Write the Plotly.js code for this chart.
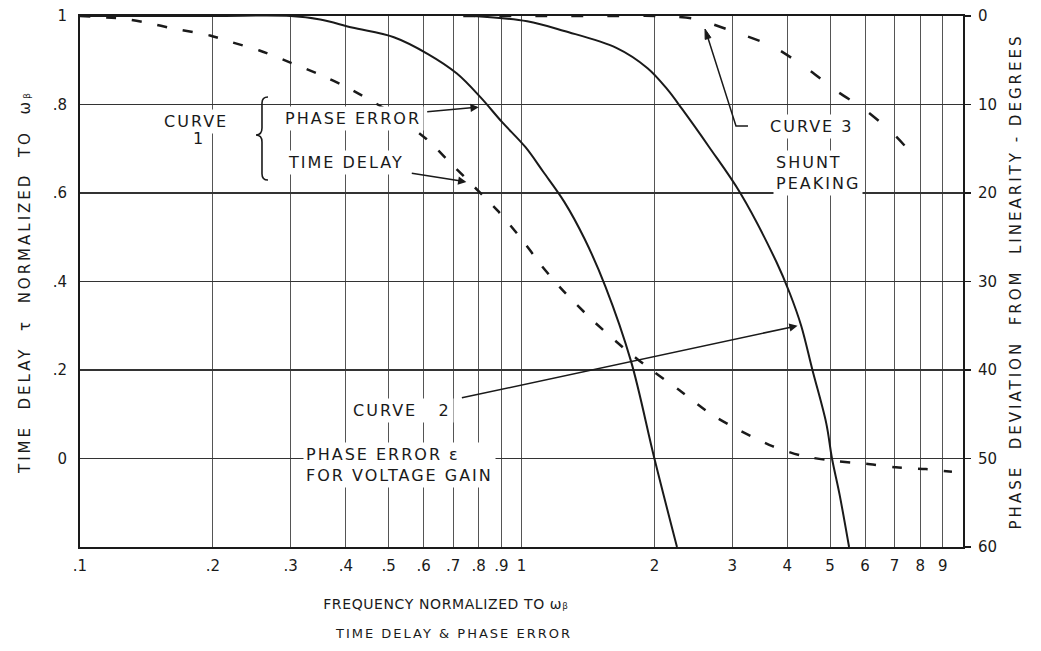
<!DOCTYPE html>
<html>
<head>
<meta charset="utf-8">
<script src="https://cdn.plot.ly/plotly-3.0.1.min.js"></script>
<style>
  html, body { margin: 0; padding: 0; background: #fff; }
  #chart { width: 1041px; height: 651px; }
  .annotation-text { letter-spacing: 2px; }
  .annotation[data-index="8"] .annotation-text { letter-spacing: 0.6px; }
  .ytitle, .y2title { letter-spacing: 3px; }
</style>
</head>
<body>
<div id="chart"></div>
<script>
// ---- tick labels ----
const freqTicks = [0.1, 0.2, 0.3, 0.4, 0.5, 0.6, 0.7, 0.8, 0.9, 1, 2, 3, 4, 5, 6, 7, 8, 9];
const freqTickText = [".1", ".2", ".3", ".4", ".5", ".6", ".7", ".8", ".9", "1", "2", "3", "4", "5", "6", "7", "8", "9"];
const delayTicks = [0, 0.2, 0.4, 0.6, 0.8, 1];
const delayTickText = ["0", ".2", ".4", ".6", ".8", "1"];
const phaseTicks = [0, 10, 20, 30, 40, 50, 60];
const phaseTickText = ["0", "10", "20", "30", "40", "50", "60"];

// ---- Curve 1: phase error (degrees, right axis) ----
const curve1Freq = [0.1, 0.2, 0.3, 0.35, 0.413, 0.514, 0.614, 0.714, 0.808, 0.904, 1.02, 1.12, 1.25, 1.39, 1.55, 1.77, 2.0, 2.25];
const curve1Phase = [0, 0, 0, 0.4, 1.3, 2.4, 4.3, 6.5, 9.2, 12.0, 14.8, 17.6, 21.0, 25.2, 30.6, 39.0, 50, 60];

// ---- Curve 1: time delay (normalized, left axis) ----
const curve1DelayFreq = [0.1, 0.125, 0.143, 0.162, 0.197, 0.222, 0.255, 0.294, 0.349, 0.4, 0.5, 0.609, 0.695, 0.762, 0.883, 1.0, 1.11, 1.23, 1.45, 1.73, 1.97, 2.28, 2.69, 3.11, 3.7, 4.32, 5.16, 6.04, 7.05, 8.24, 9.44];
const curve1Delay = [1.0, 0.994, 0.984, 0.972, 0.956, 0.94, 0.922, 0.898, 0.868, 0.84, 0.785, 0.722, 0.665, 0.625, 0.56, 0.496, 0.436, 0.384, 0.312, 0.244, 0.2, 0.154, 0.1, 0.064, 0.028, 0.006, -0.006, -0.012, -0.02, -0.024, -0.03];

// ---- Curve 2: phase error for voltage gain (degrees, right axis) ----
const curve2Freq = [0.778, 1.03, 1.25, 1.64, 1.93, 2.14, 2.31, 2.66, 3.13, 3.78, 4.05, 4.3, 4.56, 4.9, 5.05, 5.25, 5.52];
const curve2Phase = [0, 0.6, 1.7, 3.6, 5.9, 8.3, 10.5, 14.8, 20, 27.8, 31.3, 35, 40, 46, 50, 54, 60];

// ---- Curve 3: shunt peaking (normalized, left axis) ----
const curve3Freq = [0.738, 1.08, 1.32, 1.61, 2.05, 2.46, 3.0, 3.73, 4.51, 5.18, 6.0, 6.95, 8.0];
const curve3Delay = [1.0, 1.0, 1.0, 1.0, 1.0, 0.994, 0.966, 0.93, 0.876, 0.83, 0.788, 0.734, 0.668];

const ink = "#1a1a1a";
const FONT = "DejaVu Sans, Verdana, sans-serif";

const traces = [
  { x: curve1Freq, y: curve1Phase, yaxis: "y2", mode: "lines", name: "Curve 1 phase error",
    line: { color: ink, width: 2, shape: "spline", smoothing: 1.0 } },
  { x: curve1DelayFreq, y: curve1Delay, yaxis: "y", mode: "lines", name: "Curve 1 time delay",
    line: { color: ink, width: 2.5, dash: "10px,16px", shape: "spline", smoothing: 0.7 } },
  { x: curve2Freq, y: curve2Phase, yaxis: "y2", mode: "lines", name: "Curve 2",
    line: { color: ink, width: 2, shape: "spline", smoothing: 1.0 } },
  { x: curve3Freq, y: curve3Delay, yaxis: "y", mode: "lines", name: "Curve 3",
    line: { color: ink, width: 2.5, dash: "12px,24px", shape: "spline", smoothing: 0.7 } }
];

const textFont = { family: FONT, size: 16, color: ink };
function label(text, x, y, xanchor) {
  return { text: text, xref: "paper", yref: "paper", x: x, y: y,
    xanchor: xanchor || "center", yanchor: "middle", showarrow: false,
    font: textFont, bgcolor: "#ffffff", borderpad: 2, align: "left" };
}
function pointer(text, xv, yv, yref, ax, ay, gap) {
  return { text: text, x: Math.log10(xv), y: yv, xref: "x", yref: yref, ax: ax, ay: ay,
    showarrow: true, arrowhead: 2, arrowsize: 1.1, arrowwidth: 1.5, arrowcolor: ink,
    startstandoff: gap, font: textFont, bgcolor: "#ffffff", borderpad: 2 };
}

const annotations = [
  label("CURVE", 0.1314, 0.8004),                       // 0
  label("1", 0.1348, 0.7684),                           // 1
  pointer("PHASE ERROR", 0.80, 10.3, "y2", -126, 11, 4),   // 2
  pointer("TIME DELAY", 0.75, 0.625, "y", -120, -19, 5),  // 3
  label("CURVE 3", 0.778, 0.791, "left"),               // 4
  label("SHUNT<br>PEAKING", 0.7848, 0.7043, "left"),    // 5
  pointer("CURVE   2", 4.22, 35, "y2", -396, 85, 9),     // 6
  label("PHASE ERROR ε<br>FOR VOLTAGE GAIN", 0.2525, 0.1535, "left"), // 7
  { text: "FREQUENCY NORMALIZED TO ωᵦ", xref: "paper", yref: "paper",   // 8
    x: 0.4145, y: -0.107, xanchor: "center", yanchor: "middle", showarrow: false,
    font: { family: FONT, size: 14, color: ink } },
  { text: "TIME DELAY & PHASE ERROR", xref: "paper", yref: "paper",      // 9
    x: 0.4235, y: -0.162, xanchor: "center", yanchor: "middle", showarrow: false,
    font: { family: FONT, size: 13, color: ink } }
];

const shapes = [
  // brace for curve 1
  { type: "path", xref: "paper", yref: "paper",
    path: "M 0.2129,0.8475 Q 0.2061,0.8475 0.2061,0.8360 L 0.2061,0.7890 Q 0.2061,0.7759 0.1993,0.7759 Q 0.2061,0.7759 0.2061,0.7628 L 0.2061,0.7030 Q 0.2061,0.6911 0.2129,0.6911",
    line: { color: ink, width: 1.6 } },
  // curve 3 leader line
  { type: "path", xref: "paper", yref: "paper",
    path: "M 0.7565,0.7928 L 0.7429,0.7928 L 0.7101,0.9642",
    line: { color: ink, width: 1.5 } },
  // curve 3 arrow head
  { type: "path", xref: "paper", yref: "paper",
    path: "M 0.7078,0.9755 L 0.7145,0.9593 L 0.7080,0.9559 Z",
    fillcolor: ink, line: { color: ink, width: 1 } }
];

const layout = {
  width: 1041, height: 651,
  margin: { l: 80, r: 78, t: 16, b: 104 },
  paper_bgcolor: "#ffffff", plot_bgcolor: "#ffffff",
  showlegend: false,
  font: { family: FONT, color: ink },
  xaxis: {
    type: "log", range: [-1, 1], tickmode: "array", tickvals: freqTicks, ticktext: freqTickText,
    showgrid: true, gridcolor: "#555555", gridwidth: 1, zeroline: false,
    showline: true, linecolor: ink, linewidth: 2, mirror: true, ticks: "",
    tickfont: { family: FONT, size: 15, color: ink }, ticklabelstandoff: 4
  },
  yaxis: {
    range: [-0.2, 1], tickmode: "array", tickvals: delayTicks, ticktext: delayTickText,
    showgrid: true, gridcolor: "#333333", gridwidth: 1.2, zeroline: false,
    showline: true, linecolor: ink, linewidth: 2, ticks: "",
    tickfont: { family: FONT, size: 15, color: ink }, ticklabelstandoff: 8,
    title: { text: "TIME  DELAY  τ  NORMALIZED  TO  ωᵦ", standoff: 18,
             font: { family: FONT, size: 15, color: ink } }
  },
  yaxis2: {
    overlaying: "y", side: "right", range: [60, 0], tickmode: "array",
    tickvals: phaseTicks, ticktext: phaseTickText,
    showgrid: false, zeroline: false, showline: true, linecolor: ink, linewidth: 2,
    ticks: "outside", ticklen: 6, tickcolor: ink, tickwidth: 1.5,
    tickfont: { family: FONT, size: 15, color: ink }, ticklabelstandoff: 4,
    title: { text: "PHASE  DEVIATION  FROM  LINEARITY - DEGREES", standoff: 14,
             font: { family: FONT, size: 15, color: ink } }
  },
  annotations: annotations,
  shapes: shapes
};

Plotly.newPlot("chart", traces, layout, { staticPlot: true, displayModeBar: false });
</script>
</body>
</html>
